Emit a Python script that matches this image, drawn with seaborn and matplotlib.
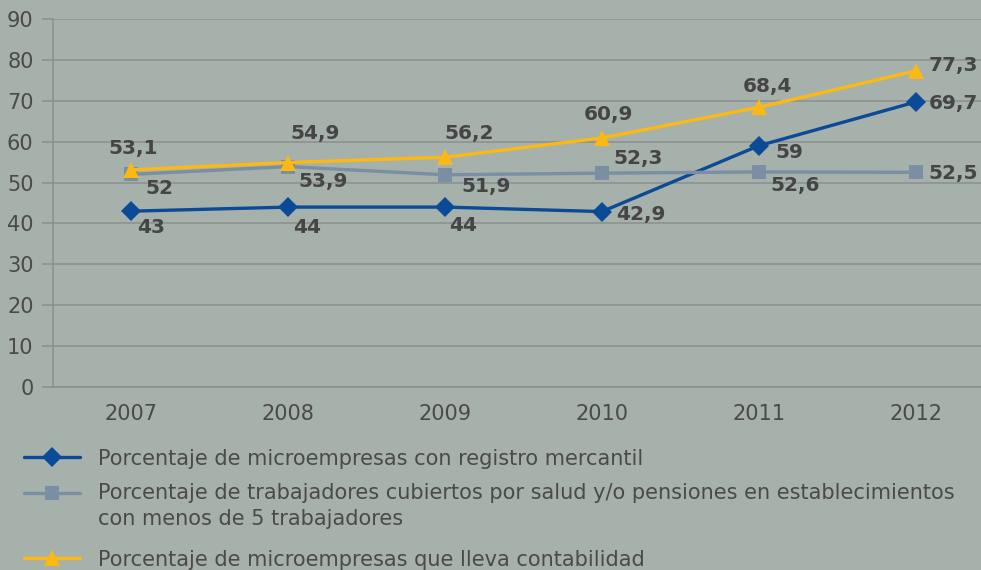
import pandas as pd
import seaborn as sns
import matplotlib.pyplot as plt
from matplotlib.lines import Line2D

# data
years = ['2007', '2008', '2009', '2010', '2011', '2012']
registro = [43, 44, 44, 42.9, 59, 69.7]
salud = [52, 53.9, 51.9, 52.3, 52.6, 52.5]
contabilidad = [53.1, 54.9, 56.2, 60.9, 68.4, 77.3]

labels = [
    'Porcentaje de microempresas con registro mercantil',
    'Porcentaje de trabajadores cubiertos por salud y/o pensiones en establecimientos\ncon menos de 5 trabajadores',
    'Porcentaje de microempresas que lleva contabilidad',
]

BG = '#A6B1AB'
GRID = '#8B908D'
TXT = '#4A4A4A'
colors = ['#0A4A96', '#7A8FA3', '#FDB913']
markers = ['D', 's', '^']
msizes = [10.5, 10, 11.5]

# label offsets in pixels (dx, dy, ha) for each point
offsets = [
    [(6, -16, 'left'), (5, -20, 'left'), (4, -18, 'left'), (14, -3, 'left'), (17, -7, 'left'), (13, -1, 'left')],
    [(14, -14, 'left'), (10, -15, 'left'), (16, -12, 'left'), (12, 15, 'left'), (12, -14, 'left'), (13, -1, 'left')],
    [(2, 21, 'center'), (2, 29, 'left'), (-1, 24, 'left'), (-18, 23, 'left'), (-16, 21, 'left'), (13, 5, 'left')],
]

sns.set_theme(style='white')
plt.rcParams['font.family'] = ['DejaVu Sans']

fig = plt.figure(figsize=(9.81, 5.70), dpi=100, facecolor=BG)
ax = fig.add_axes([53 / 981, 183 / 570, 941 / 981, 368 / 570])
ax.set_facecolor(BG)

series = [registro, salud, contabilidad]
for vals, c, m, ms in zip(series, colors, markers, msizes):
    df = pd.DataFrame({'year': years, 'value': vals})
    sns.lineplot(data=df, x='year', y='value', ax=ax, color=c, marker=m,
                 markersize=ms, markeredgewidth=0, linewidth=2.4, sort=False)

for vals, offs in zip(series, offsets):
    for i, (v, (dx, dy, ha)) in enumerate(zip(vals, offs)):
        txt = f'{v:g}'.replace('.', ',')
        ax.annotate(txt, (i, v), xytext=(dx, dy), textcoords='offset pixels',
                    ha=ha, va='center', fontsize=14.5, fontweight='bold', color='#454545')

ax.set_xlim(-0.5, 5.5)
ax.set_ylim(0, 90)
ax.set_yticks(range(0, 91, 10))
ax.set_xlabel('')
ax.set_ylabel('')
ax.yaxis.grid(True, color=GRID, linewidth=1.1)
ax.set_axisbelow(True)
for s in ['top', 'right']:
    ax.spines[s].set_visible(False)
for s in ['left', 'bottom']:
    ax.spines[s].set_color(GRID)
    ax.spines[s].set_linewidth(1.1)
ax.tick_params(axis='y', length=8, width=1.1, color=GRID, pad=6, labelsize=15, labelcolor=TXT, left=True)
ax.tick_params(axis='x', length=0, pad=12, labelsize=15, labelcolor=TXT)

# legend drawn below the plot
handle_y = [457, 493, 558]
text_y = [459, 483, 560]
for i in range(3):
    y = 1 - handle_y[i] / 570
    fig.add_artist(Line2D([24 / 981, 80 / 981], [y, y], color=colors[i], linewidth=2.4,
                          transform=fig.transFigure))
    fig.add_artist(Line2D([52 / 981], [y], color=colors[i], marker=markers[i],
                          markersize=msizes[i], markeredgewidth=0, transform=fig.transFigure))
    va = 'top' if i == 1 else 'center'
    fig.text(98 / 981, 1 - text_y[i] / 570, labels[i], ha='left', va=va,
             fontsize=15, color=TXT, linespacing=1.4)

fig.savefig('out.png', dpi=100, facecolor=BG)
